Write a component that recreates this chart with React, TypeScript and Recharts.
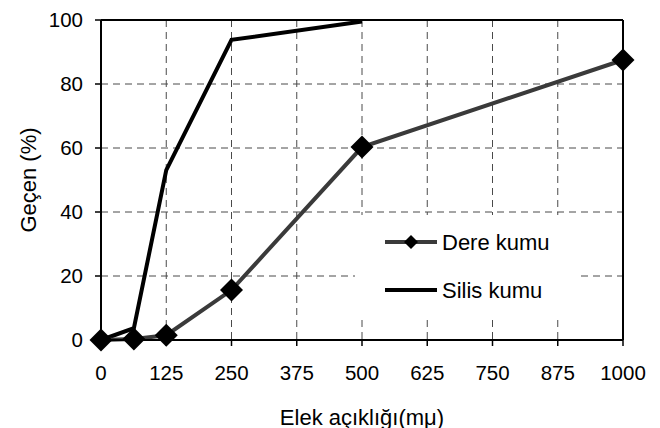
import React from 'react';
import {
  LineChart,
  Line,
  XAxis,
  YAxis,
  CartesianGrid,
  Legend,
  ReferenceLine,
} from 'recharts';

const xTicks = [0, 125, 250, 375, 500, 625, 750, 875, 1000];
const yTicks = [0, 20, 40, 60, 80, 100];

const dereSize = [0, 63, 125, 250, 500, 1000];
const dereValues = [0, 0.3, 1.5, 15.6, 60.3, 87.5];

const silisSize = [0, 63, 125, 250, 500];
const silisValues = [0, 3.7, 53.1, 93.8, 99.5];

const dereData = dereSize.map((x, i) => ({ x, y: dereValues[i] }));
const silisData = silisSize.map((x, i) => ({ x, y: silisValues[i] }));

const FONT = '"Liberation Sans", Arial, sans-serif';
const DERE_COLOR = '#3a3a3a';

const Diamond = (props: any) => {
  const { cx, cy } = props;
  if (cx == null || cy == null) return null;
  const r = 11.5;
  return (
    <polygon
      key={`d-${cx}-${cy}`}
      points={`${cx},${cy - r} ${cx + r},${cy} ${cx},${cy + r} ${cx - r},${cy}`}
      fill="#000"
      stroke="none"
    />
  );
};

const LegendBox = () => (
  <div style={{ width: 223, height: 100, background: '#fff', position: 'relative' }}>
    <svg width={223} height={100} style={{ position: 'absolute', left: 0, top: 0 }}>
      <line x1={30} y1={27} x2={82} y2={27} stroke={DERE_COLOR} strokeWidth={4} />
      <polygon points="56,20 63,27 56,34 49,27" fill="#000" />
      <text x={87} y={27} dominantBaseline="central" fontFamily={FONT} fontSize={22} fill="#000">
        Dere kumu
      </text>
      <line x1={30} y1={75} x2={82} y2={75} stroke="#000" strokeWidth={4} />
      <text x={87} y={75} dominantBaseline="central" fontFamily={FONT} fontSize={22} fill="#000">
        Silis kumu
      </text>
    </svg>
  </div>
);

export default function App() {
  return (
    <div style={{ position: 'absolute', left: 0, top: 0, width: 660, height: 428, background: '#fff' }}>
      <LineChart
        width={660}
        height={428}
        margin={{ top: 20, right: 37, left: 21, bottom: 8 }}
        style={{ fontFamily: FONT }}
      >
        <CartesianGrid stroke="#4a4a4a" strokeDasharray="7 5" strokeWidth={1} />
        <XAxis
          type="number"
          dataKey="x"
          domain={[0, 1000]}
          ticks={xTicks}
          interval={0}
          height={80}
          axisLine={{ stroke: '#000', strokeWidth: 2 }}
          tickLine={{ stroke: '#000', strokeWidth: 1.5 }}
          tickSize={6}
          tickMargin={19}
          tick={{ fill: '#000', fontSize: 20.5, fontFamily: FONT }}
          allowDuplicatedCategory={false}
          label={{
            content: (p: any) => {
              const vb = p.viewBox || {};
              const cx = vb.x + vb.width / 2;
              const cy = vb.y + 77;
              return (
                <text x={cx} y={cy} textAnchor="middle" dominantBaseline="central" fontFamily={FONT} fontSize={22} fill="#000">
                  Elek açıklığı(mμ)
                </text>
              );
            },
          }}
        />
        <YAxis
          type="number"
          dataKey="y"
          domain={[0, 100]}
          ticks={yTicks}
          interval={0}
          width={80}
          axisLine={{ stroke: '#000', strokeWidth: 2 }}
          tickLine={{ stroke: '#000', strokeWidth: 1.5 }}
          tickSize={6}
          tickMargin={12}
          tick={{ fill: '#000', fontSize: 20.5, fontFamily: FONT }}
          label={{
            content: (p: any) => {
              const vb = p.viewBox || {};
              const cx = vb.x + 7;
              const cy = vb.y + vb.height / 2;
              return (
                <text
                  x={cx}
                  y={cy}
                  transform={`rotate(-90 ${cx} ${cy})`}
                  textAnchor="middle"
                  dominantBaseline="central"
                  fontFamily={FONT}
                  fontSize={22}
                  fill="#000"
                >
                  Geçen (%)
                </text>
              );
            },
          }}
        />
        <ReferenceLine y={100} stroke="#000" strokeWidth={2} ifOverflow="extendDomain" />
        <ReferenceLine x={1000} stroke="#000" strokeWidth={2} ifOverflow="extendDomain" />
        <Legend
          layout="horizontal"
          verticalAlign="middle"
          align="center"
          content={() => <LegendBox />}
          wrapperStyle={{ position: 'absolute', left: 355, top: 215, width: 223, height: 100 }}
        />
        <Line
          data={silisData}
          dataKey="y"
          name="Silis kumu"
          type="linear"
          stroke="#000"
          strokeWidth={4}
          dot={false}
          activeDot={false}
          isAnimationActive={false}
        />
        <Line
          data={dereData}
          dataKey="y"
          name="Dere kumu"
          type="linear"
          stroke={DERE_COLOR}
          strokeWidth={4}
          dot={Diamond}
          activeDot={false}
          isAnimationActive={false}
        />
      </LineChart>
    </div>
  );
}
